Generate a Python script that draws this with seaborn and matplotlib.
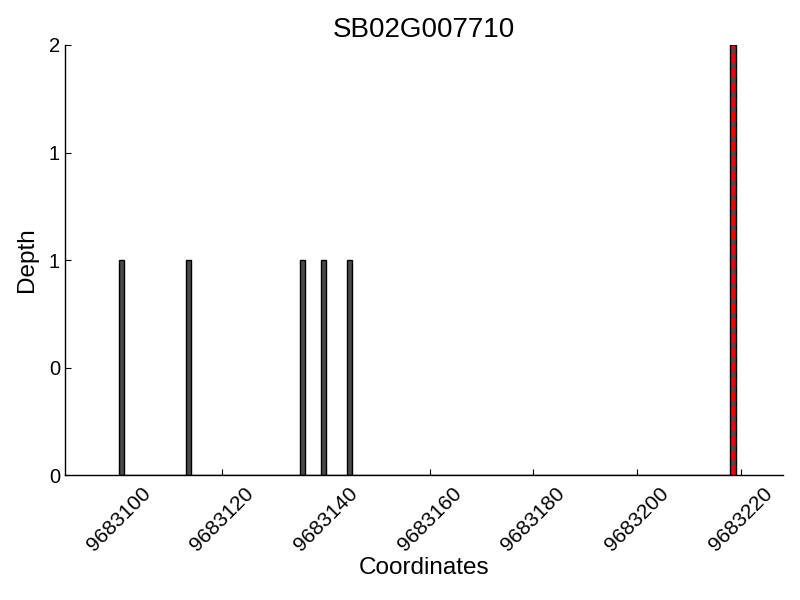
import numpy as np
import pandas as pd
import matplotlib
matplotlib.use("Agg")
import matplotlib.pyplot as plt
from matplotlib.ticker import FormatStrFormatter
import seaborn as sns

# coverage depth at each genomic coordinate
gene_name = "SB02G007710"
positions = [9683100, 9683113, 9683135, 9683139, 9683144, 9683218]
depths = [1, 1, 1, 1, 1, 2]
marker_pos = 9683218.5  # red dashed line
x_ticks = [9683100, 9683120, 9683140, 9683160, 9683180, 9683200, 9683220]
y_ticks = [0, 0.5, 1, 1.5, 2]

sns.set_style("ticks")
plt.rcParams['font.family'] = ['Liberation Sans', 'DejaVu Sans']
plt.rcParams['axes.edgecolor'] = 'black'
plt.rcParams['axes.linewidth'] = 1.0
plt.rcParams['text.color'] = 'black'
plt.rcParams['axes.labelcolor'] = 'black'

df = pd.DataFrame({'pos': positions, 'depth': depths})

fig = plt.figure(figsize=(8, 6), dpi=100)
ax = fig.add_axes([0.081, 0.208, 0.898, 0.717])

sns.histplot(data=df, x='pos', weights='depth', binwidth=1,
             binrange=(min(positions), max(positions) + 1), ax=ax,
             color='#4a4a4a', edgecolor='black', linewidth=1.0, alpha=1.0)

ax.axvline(marker_pos, color='red', linestyle='--', linewidth=2)

ax.set_xlim(9683089.6, 9683228.2)
ax.set_ylim(0, 2)
ax.set_xticks(x_ticks)
ax.set_xticklabels([str(t) for t in x_ticks], rotation=45, fontsize=15)
ax.set_yticks(y_ticks)
ax.yaxis.set_major_formatter(FormatStrFormatter('%d'))
ax.tick_params(axis='y', labelsize=14.5)
ax.tick_params(direction='in', length=4.5, width=0.8, colors='black',
               labelcolor='black')
ax.tick_params(axis='x', pad=6)

sns.despine(ax=ax)

ax.set_title(gene_name, fontsize=20, color='black')
ax.set_xlabel("Coordinates", fontsize=17.5, labelpad=2)
ax.set_ylabel("Depth", fontsize=17.5, labelpad=8)

fig.savefig("out.png", dpi=100)
